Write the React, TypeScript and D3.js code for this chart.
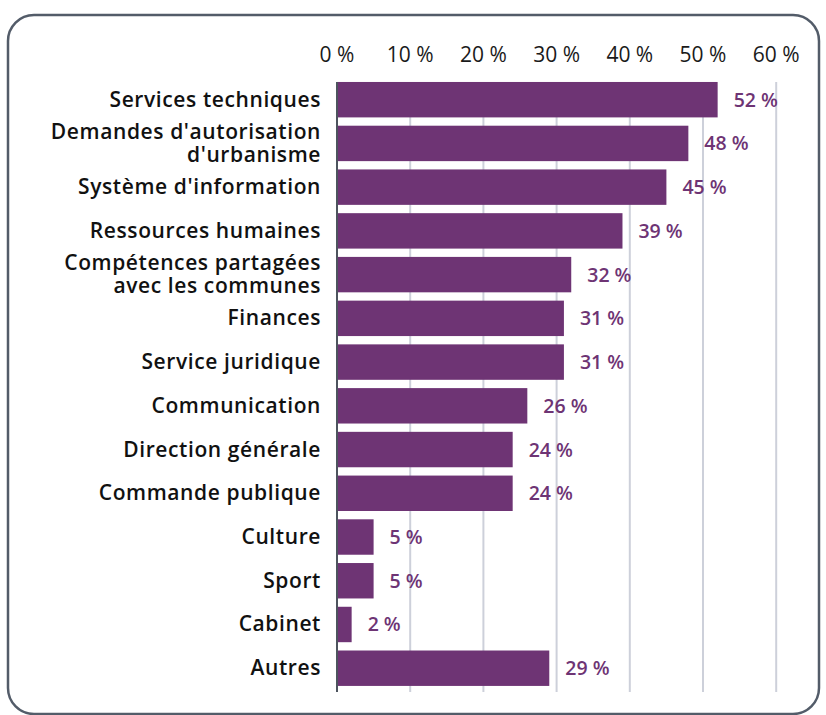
import React from "react";
import * as d3 from "d3";

const categories: string[][] = [
  ["Services techniques"],
  ["Demandes d'autorisation", "d'urbanisme"],
  ["Système d'information"],
  ["Ressources humaines"],
  ["Compétences partagées", "avec les communes"],
  ["Finances"],
  ["Service juridique"],
  ["Communication"],
  ["Direction générale"],
  ["Commande publique"],
  ["Culture"],
  ["Sport"],
  ["Cabinet"],
  ["Autres"],
];
const values: number[] = [52, 48, 45, 39, 32, 31, 31, 26, 24, 24, 5, 5, 2, 29];
const ticks: number[] = [0, 10, 20, 30, 40, 50, 60];

const W = 826;
const H = 715;
const x0 = 337;
const x1 = 776.2;
const yTop = 77.6;
const yBot = 690.3;
const PURPLE = "#6e3474";
const FONT = "'Open Sans', 'Noto Sans', sans-serif";

export default function App() {
  const x = d3.scaleLinear().domain([0, 60]).range([x0, x1]);
  const idx = categories.map((_, i) => String(i));
  const y = d3.scaleBand().domain(idx).range([yTop, yBot]).paddingInner(0.19).paddingOuter(0.1);
  const bw = y.bandwidth();
  return (
    <svg width={W} height={H} style={{ position: "absolute", left: 0, top: 0, display: "block" }} fontFamily={FONT}>
      <rect x={0} y={0} width={W} height={H} fill="#ffffff" />
      <rect x={8} y={15} width={811} height={699} rx={26} ry={26} fill="none" stroke="#535c69" strokeWidth={2.5} />
      {ticks.map((t) => (
        <g key={t}>
          {t > 0 && (
            <line x1={x(t)} x2={x(t)} y1={82} y2={692} stroke="#cdd0da" strokeWidth={2} />
          )}
          <text x={x(t)} y={62} textAnchor="middle" fontSize={21} fill="#1a1a1a" fontWeight={400}>
            {`${t} %`}
          </text>
        </g>
      ))}
      {values.map((v, i) => {
        const yy = y(String(i))!;
        return (
          <g key={i}>
            <rect x={x(0)} y={yy} width={x(v) - x(0)} height={bw} fill={PURPLE} />
            <text x={x(v) + 16} y={yy + bw / 2 + 7} fontSize={19.5} fontWeight={600} fill={PURPLE}>
              {`${v} %`}
            </text>
          </g>
        );
      })}
      <line x1={x0} x2={x0} y1={82} y2={692} stroke="#4d545e" strokeWidth={2} />
      {categories.map((lines, i) => {
        const yy = y(String(i))! + bw / 2;
        const lh = 23;
        const start = yy - ((lines.length - 1) * lh) / 2 + 7;
        return (
          <text key={i} x={321} textAnchor="end" fontSize={21} fontWeight={600} letterSpacing={0.6} fill="#111">
            {lines.map((l, j) => (
              <tspan key={j} x={321} y={start + j * lh}>
                {l}
              </tspan>
            ))}
          </text>
        );
      })}
    </svg>
  );
}
